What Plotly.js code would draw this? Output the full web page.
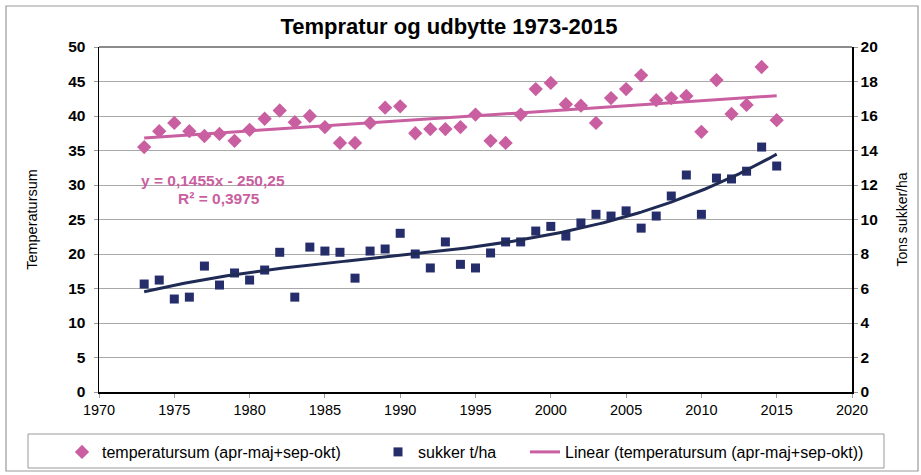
<!DOCTYPE html>
<html>
<head>
<meta charset="utf-8">
<script src="https://cdn.plot.ly/plotly-3.0.1.min.js"></script>
<style>html,body{margin:0;padding:0;background:#fff;}#chart{width:921px;height:475px;}</style>
</head>
<body>
<div id="chart"></div>
<script>
// ---- data ----
const years = [1973,1974,1975,1976,1977,1978,1979,1980,1981,1982,
               1983,1984,1985,1986,1987,1988,1989,1990,1991,1992,
               1993,1994,1995,1996,1997,1998,1999,2000,2001,2002,
               2003,2004,2005,2006,2007,2008,2009,2010,2011,2012,
               2013,2014,2015];
const temperatursum = [35.5,37.8,39.0,37.8,37.1,37.4,36.4,38.0,39.6,40.8,
                       39.1,40.0,38.4,36.1,36.1,39.0,41.2,41.4,37.5,38.1,
                       38.1,38.4,40.2,36.4,36.1,40.2,43.9,44.8,41.7,41.5,
                       39.0,42.6,43.9,45.9,42.3,42.6,42.9,37.7,45.2,40.3,
                       41.6,47.1,39.4];
const sukker = [6.26,6.49,5.39,5.5,7.3,6.2,6.9,6.49,7.07,8.1,
                5.5,8.4,8.17,8.1,6.6,8.17,8.29,9.2,8.0,7.19,
                8.7,7.4,7.19,8.06,8.7,8.7,9.33,9.6,9.04,9.8,
                10.3,10.2,10.5,9.5,10.2,11.36,12.58,10.3,12.4,12.35,
                12.8,14.2,13.1];
const trendSlope = 0.1455;
const trendIntercept = -250.25;
const equationText = "y = 0,1455x - 250,25";
const r2Text = "R² = 0,3975";
const xTicks = [1970,1975,1980,1985,1990,1995,2000,2005,2010,2015,2020];
const yLeftTicks = [0,5,10,15,20,25,30,35,40,45,50];
const yRightTicks = [0,2,4,6,8,10,12,14,16,18,20];

// ---- colours ----
const PINK = '#C95FA0';
const NAVY = '#262D6B';
const NAVY_LINE = '#1F2A55';

// linear trend from the equation
const xFirst = years[0], xLast = years[years.length-1];
const linX = [xFirst, xLast];
const linY = linX.map(x => trendSlope*x + trendIntercept);

// polynomial least squares fit of sugar data
function polyfit(xs, ys, order){
  const x0 = xs[0];
  const n = order+1;
  const A = Array.from({length:n},()=>new Array(n).fill(0));
  const b = new Array(n).fill(0);
  for(let k=0;k<xs.length;k++){
    const t = xs[k]-x0;
    for(let i=0;i<n;i++){
      b[i]+=ys[k]*Math.pow(t,i);
      for(let j=0;j<n;j++) A[i][j]+=Math.pow(t,i+j);
    }
  }
  for(let i=0;i<n;i++){
    let p=i; for(let r=i+1;r<n;r++) if(Math.abs(A[r][i])>Math.abs(A[p][i])) p=r;
    [A[i],A[p]]=[A[p],A[i]]; [b[i],b[p]]=[b[p],b[i]];
    for(let r=i+1;r<n;r++){const f=A[r][i]/A[i][i]; for(let c=i;c<n;c++) A[r][c]-=f*A[i][c]; b[r]-=f*b[i];}
  }
  const c=new Array(n).fill(0);
  for(let i=n-1;i>=0;i--){let s=b[i]; for(let j=i+1;j<n;j++) s-=A[i][j]*c[j]; c[i]=s/A[i][i];}
  return x => c.reduce((s,ci,i)=>s+ci*Math.pow(x-x0,i),0);
}
const sugarFit = polyfit(years, sukker, 3);
const fitX = [];
for(let x=xFirst; x<=xLast+1e-9; x+=0.25) fitX.push(x);
const fitY = fitX.map(sugarFit);

const FONT = 'Liberation Sans, Arial, sans-serif';

const traces = [
  {x: years, y: temperatursum, type:'scatter', mode:'markers', name:'temperatursum (apr-maj+sep-okt)',
   marker:{symbol:'diamond', size:11, color:PINK}, yaxis:'y', legend:'legend'},
  {x: years, y: sukker, type:'scatter', mode:'markers', name:'sukker t/ha',
   marker:{symbol:'square', size:9, color:NAVY}, yaxis:'y2', legend:'legend2'},
  {x: fitX, y: fitY, type:'scatter', mode:'lines', showlegend:false,
   line:{color:NAVY_LINE, width:3}, yaxis:'y2', hoverinfo:'skip'},
  {x: linX, y: linY, type:'scatter', mode:'lines', name:'Linear (temperatursum (apr-maj+sep-okt))',
   line:{color:PINK, width:3}, yaxis:'y', legend:'legend3'}
];

const W=921, H=475, ML=99, MR=69, MT=47, MB=83;
const PW=W-ML-MR, PH=H-MT-MB;
const px = p => (p-ML)/PW;
const py = p => (H-MB-p)/PH;

const legendCommon = {orientation:'h', xref:'container', yref:'container', xanchor:'left', yanchor:'middle',
  bgcolor:'rgba(0,0,0,0)', borderwidth:0, font:{family:FONT, size:16, color:'#000'}};

const layout = {
  width:W, height:H,
  margin:{l:ML, r:MR, t:MT, b:MB, pad:0},
  paper_bgcolor:'#fff', plot_bgcolor:'#fff',
  font:{family:FONT, color:'#000'},
  title:{text:'<b>Tempratur og udbytte 1973-2015</b>', font:{family:FONT, size:22, color:'#000'},
         x:449/W, xref:'container', xanchor:'center', y:1-26/H, yref:'container', yanchor:'middle'},
  xaxis:{range:[1970,2020], tickvals:xTicks, ticktext:xTicks.map(String), showgrid:false, zeroline:false,
         showline:true, linecolor:'#000', linewidth:1.5, ticks:'outside', ticklen:4, tickcolor:'#999',
         tickfont:{family:FONT, size:14.5, color:'#000'}},
  yaxis:{range:[0,50], tickvals:yLeftTicks, ticktext:yLeftTicks.map(v=>'<b>'+v+'</b>'), showgrid:true, gridcolor:'#A8A8A8', gridwidth:1,
         zeroline:false, showline:true, linecolor:'#000', linewidth:1.5, ticks:'outside', ticklen:4, tickcolor:'#999',
         ticklabelstandoff:5,
         tickfont:{family:FONT, size:15.5, color:'#000'},
         title:{text:'Temperatursum', font:{family:FONT, size:14.5, color:'#000'}, standoff:27}},
  yaxis2:{range:[0,20], tickvals:yRightTicks, ticktext:yRightTicks.map(v=>'<b>'+v+'</b>'), overlaying:'y', side:'right',
         showgrid:false, zeroline:false, showline:true, linecolor:'#000', linewidth:1.5, ticks:'outside', ticklen:4, tickcolor:'#999',
         tickfont:{family:FONT, size:15.5, color:'#000'},
         title:{text:'Tons sukker/ha', font:{family:FONT, size:14, color:'#000'}, standoff:20}},
  legend: Object.assign({}, legendCommon, {x:62/W, y:1-452/H}),
  legend2: Object.assign({}, legendCommon, {x:378/W, y:1-452/H}),
  legend3: Object.assign({}, legendCommon, {x:525/W, y:1-452/H}),
  annotations:[
    {text:'<b>'+equationText+'</b>', xref:'x', yref:'y', x:1977.55, y:30.6, showarrow:false,
     font:{family:FONT, size:15.5, color:PINK}, xanchor:'center', yanchor:'middle'},
    {text:'<b>'+r2Text+'</b>', xref:'x', yref:'y', x:1978.0, y:28.1, showarrow:false,
     font:{family:FONT, size:15.5, color:PINK}, xanchor:'center', yanchor:'middle'}
  ],
  shapes:[
    {type:'line', xref:'paper', yref:'paper', x0:0, x1:1, y0:1, y1:1, line:{color:'#8C8C8C', width:2}},
    {type:'rect', xref:'paper', yref:'paper', x0:px(6), x1:px(918), y0:py(471), y1:py(6), line:{color:'#999', width:1.2}, layer:'below'},
    {type:'rect', xref:'paper', yref:'paper', x0:px(28), x1:px(884), y0:py(468), y1:py(434), line:{color:'#999', width:1}, layer:'below'}
  ],
  showlegend:true
};

Plotly.newPlot('chart', traces, layout, {displayModeBar:false, staticPlot:true});
</script>
</body>
</html>
